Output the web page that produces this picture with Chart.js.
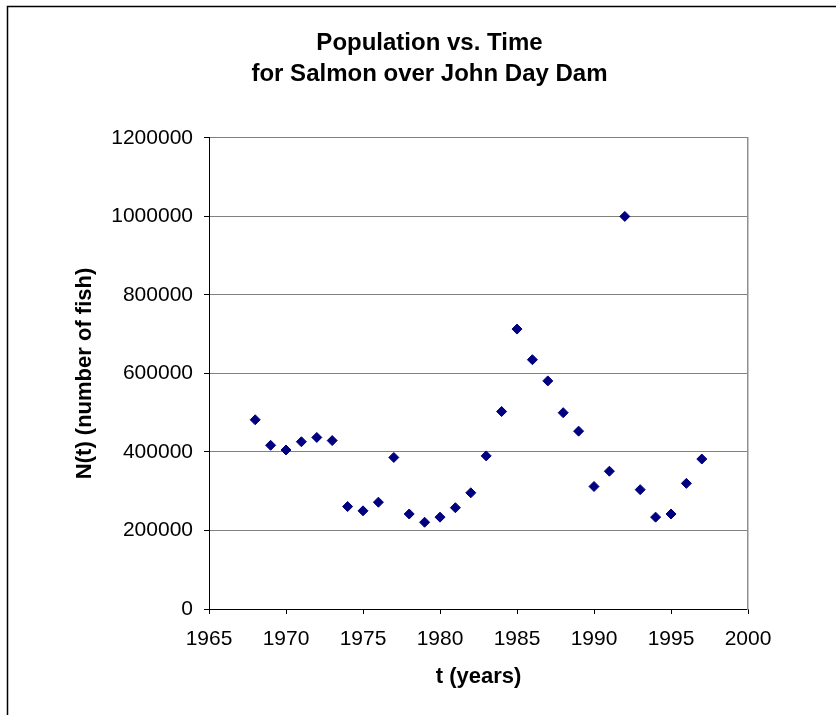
<!DOCTYPE html>
<html lang="en">
<head>
    <meta charset="UTF-8">
    <title>Population vs. Time for Salmon over John Day Dam</title>
    <script src="https://cdn.jsdelivr.net/npm/chart.js"></script>
    <style>
        body { margin: 0; background: #fff; overflow: hidden; }
        .chart-container { position: relative; width: 836px; height: 715px; }
    </style>
</head>
<body>
    <div class="chart-container">
        <canvas id="salmonChart"></canvas>
    </div>

    <script>
        // Data
        const years = [1968, 1969, 1970, 1971, 1972, 1973, 1974, 1975, 1976, 1977,
                       1978, 1979, 1980, 1981, 1982, 1983, 1984, 1985, 1986, 1987,
                       1988, 1989, 1990, 1991, 1992, 1993, 1994, 1995, 1996, 1997];
        const fishCounts = [482000, 417000, 405000, 426000, 437000, 429000, 261000, 250000, 272000, 386000,
                            242000, 221000, 234000, 258000, 296000, 390000, 503000, 713000, 635000, 581000,
                            500000, 453000, 312000, 351000, 1000000, 304000, 234000, 242000, 320000, 382000];
        const titleLines = ['Population vs. Time', 'for Salmon over John Day Dam'];
        const xTitle = 't (years)';
        const yTitle = 'N(t) (number of fish)';

        const points = years.map((y, i) => ({ x: y, y: fishCounts[i] }));
        const fontFamily = "'Liberation Sans', Arial, sans-serif";

        // outer frame like the original sheet chart
        const framePlugin = {
            id: 'frame',
            beforeDraw(chart) {
                const c = chart.ctx;
                c.save();
                c.fillStyle = '#fff';
                c.fillRect(0, 0, chart.width, chart.height);
                c.strokeStyle = '#000';
                c.lineWidth = 1.5;
                c.strokeRect(7.5, 6.5, 900, 900);
                c.restore();
            }
        };

        const ctx = document.getElementById('salmonChart').getContext('2d');
        const salmonChart = new Chart(ctx, {
            type: 'scatter',
            data: {
                datasets: [{
                    label: 'Salmon',
                    data: points,
                    pointStyle: 'rectRot',
                    pointRadius: 5,
                    pointBorderWidth: 1,
                    backgroundColor: '#000080',
                    borderColor: '#000080',
                    showLine: false
                }]
            },
            options: {
                responsive: true,
                maintainAspectRatio: false,
                animation: false,
                layout: { padding: { left: 23, right: 0, top: 0, bottom: 0 } },
                plugins: {
                    legend: { display: false },
                    tooltip: { enabled: false },
                    title: {
                        display: true,
                        text: titleLines,
                        color: '#000',
                        font: { family: fontFamily, size: 24, weight: 'bold', lineHeight: 1.31 },
                        padding: { top: 27.5, bottom: 47.5 }
                    }
                },
                scales: {
                    x: {
                        type: 'linear',
                        position: 'bottom',
                        min: 1965,
                        max: 2000,
                        afterFit: s => { s.height = 106; },
                        ticks: {
                            stepSize: 5,
                            color: '#000',
                            padding: 13,
                            maxRotation: 0,
                            font: { family: fontFamily, size: 21 },
                            callback: v => String(v)
                        },
                        grid: { drawOnChartArea: false, drawTicks: true, tickLength: 5, tickColor: '#000' },
                        border: { display: true, color: '#000', width: 1 },
                        title: {
                            display: true,
                            text: xTitle,
                            color: '#000',
                            font: { family: fontFamily, size: 22, weight: 'bold' },
                            padding: { top: 0, bottom: 25 }
                        }
                    },
                    y: {
                        type: 'linear',
                        position: 'left',
                        min: 0,
                        max: 1200000,
                        afterFit: s => { s.width = 186; },
                        ticks: {
                            stepSize: 200000,
                            color: '#000',
                            padding: 11,
                            font: { family: fontFamily, size: 21 },
                            callback: v => String(v)
                        },
                        grid: { color: '#808080', lineWidth: 1, drawTicks: true, tickLength: 5, tickColor: '#000' },
                        border: { display: true, color: '#000', width: 1 },
                        title: {
                            display: true,
                            text: yTitle,
                            color: '#000',
                            font: { family: fontFamily, size: 22, weight: 'bold' },
                            padding: { top: 49, bottom: 0 }
                        }
                    },
                    // empty axis on the right, only used as the plot's right border
                    yRight: {
                        type: 'linear',
                        position: 'right',
                        min: 0,
                        max: 1,
                        afterFit: s => { s.width = 88; },
                        ticks: { display: false },
                        grid: { display: false },
                        border: { display: true, color: '#909090', width: 1.5 }
                    }
                }
            },
            plugins: [framePlugin]
        });
    </script>
</body>
</html>
